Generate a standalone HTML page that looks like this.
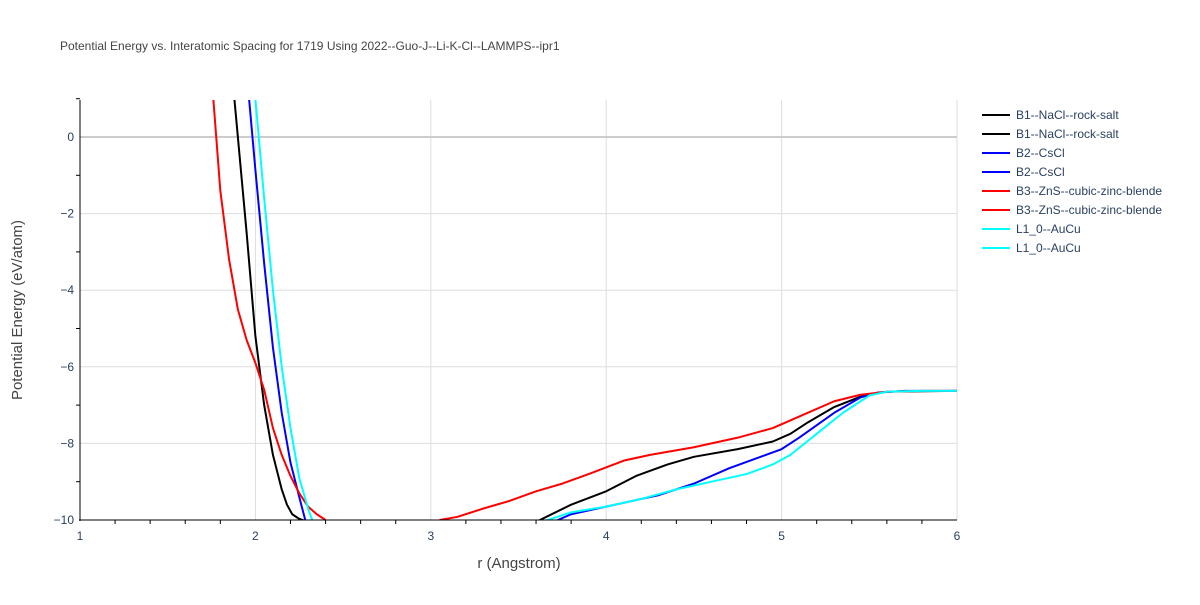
<!DOCTYPE html>
<html><head><meta charset="utf-8"><style>body{margin:0;background:#fff;font-family:"Liberation Sans",sans-serif}</style></head>
<body>
<svg id="chart" width="1200" height="600" xmlns="http://www.w3.org/2000/svg">
<rect width="1200" height="600" fill="#fff"/>
<text x="60" y="50" font-size="12" fill="#444">Potential Energy vs. Interatomic Spacing for 1719 Using 2022--Guo-J--Li-K-Cl--LAMMPS--ipr1</text>
<defs><clipPath id="pc"><rect x="80" y="100" width="877" height="420"/></clipPath></defs>
<g id="grid"></g>
<g id="series" clip-path="url(#pc)"></g>
<g id="axes"></g>
<g id="legend"></g>
<text x="519" y="568" font-size="15" fill="#444" text-anchor="middle">r (Angstrom)</text>
<text transform="translate(22,310) rotate(-90)" font-size="15" fill="#444" text-anchor="middle">Potential Energy (eV/atom)</text>
</svg>
<script>
const xTicks=[1,2,3,4,5,6];
const yTicks=[0,-2,-4,-6,-8,-10];
const seriesNames=["B1--NaCl--rock-salt","B2--CsCl","B3--ZnS--cubic-zinc-blende","L1_0--AuCu"];
const seriesColors=["#000000","#0000ff","#ff0000","#00ffff"];
const b1Left=[[1.87,1.5],[1.95,-2.5],[2.0,-5.2],[2.05,-7.0],[2.1,-8.3],[2.15,-9.2],[2.18,-9.6],[2.21,-9.85],[2.25,-9.97],[2.3,-10.05]];
const b1Right=[[3.6,-10.05],[3.8,-9.6],[4.0,-9.25],[4.17,-8.85],[4.35,-8.55],[4.5,-8.35],[4.75,-8.15],[4.95,-7.95],[5.05,-7.75],[5.15,-7.45],[5.3,-7.05],[5.45,-6.78],[5.6,-6.65],[6,-6.63]];
const b2Left=[[1.96,1.2],[2.0,-0.86],[2.05,-3.3],[2.1,-5.5],[2.15,-7.2],[2.2,-8.5],[2.25,-9.4],[2.29,-10.1]];
const b2Right=[[3.7,-10.05],[3.8,-9.85],[4.0,-9.65],[4.2,-9.45],[4.3,-9.35],[4.5,-9.05],[4.7,-8.65],[5.0,-8.15],[5.1,-7.85],[5.3,-7.2],[5.45,-6.8],[5.55,-6.67],[5.7,-6.63],[6,-6.63]];
const b3Left=[[1.76,1.0],[1.8,-1.4],[1.85,-3.2],[1.9,-4.5],[1.95,-5.3],[2.0,-5.9],[2.05,-6.6],[2.1,-7.6],[2.15,-8.3],[2.2,-8.85],[2.25,-9.3],[2.3,-9.65],[2.35,-9.85],[2.4,-10.0]];
const b3Right=[[3.05,-10.0],[3.15,-9.92],[3.3,-9.7],[3.45,-9.5],[3.6,-9.25],[3.75,-9.05],[3.9,-8.8],[4.1,-8.45],[4.25,-8.3],[4.5,-8.1],[4.75,-7.85],[4.95,-7.6],[5.1,-7.3],[5.3,-6.9],[5.45,-6.73],[5.6,-6.65],[5.8,-6.63],[6,-6.63]];
const l10Left=[[1.99,1.5],[2.05,-1.6],[2.1,-4.0],[2.15,-6.0],[2.2,-7.6],[2.25,-8.9],[2.3,-9.7],[2.34,-10.2]];
const l10Right=[[3.6,-10.1],[3.8,-9.8],[4.0,-9.65],[4.2,-9.45],[4.4,-9.2],[4.6,-9.0],[4.8,-8.8],[4.95,-8.55],[5.05,-8.3],[5.2,-7.75],[5.35,-7.2],[5.5,-6.75],[5.6,-6.65],[5.8,-6.63],[6,-6.63]];
const NS="http://www.w3.org/2000/svg";
const X=v=>80+(v-1)*175.4;
const Y=v=>137-v*38.3;
function mk(t,a,p){const e=document.createElementNS(NS,t);for(const k in a)e.setAttribute(k,a[k]);p.appendChild(e);return e;}
const grid=document.getElementById('grid'),axes=document.getElementById('axes'),ser=document.getElementById('series'),leg=document.getElementById('legend');
xTicks.forEach(t=>{
 const l=mk('line',{x1:X(t),x2:X(t),y1:100,y2:520,stroke:'#ddd','stroke-width':1},grid);
 
 
 const tx=mk('text',{x:X(t),y:540,'font-size':12,fill:'#2a3f5f','text-anchor':'middle'},axes);tx.textContent=t;
 
 
});
yTicks.forEach(t=>{
 const l=mk('line',{x1:80,x2:957,y1:Y(t),y2:Y(t),stroke:t===0?'#ccc':'#ddd','stroke-width':t===0?2:1},grid);
 
 
 const tx=mk('text',{x:74,y:Y(t)+4,'font-size':12,fill:'#2a3f5f','text-anchor':'end'},axes);tx.textContent=(t<0?'−'+(-t):t);
 
 
});
const al=mk('line',{x1:79,x2:957,y1:520,y2:520,stroke:'#000'},axes);


const yl=mk('line',{x1:80,x2:80,y1:100,y2:521,stroke:'#000'},axes);


for(let v=-9;v<=1;v+=2){const m=mk('line',{x1:76,x2:80,y1:Y(v),y2:Y(v),stroke:'#000'},axes);
 
 }
for(let i=1;i<6;i++){for(let k=1;k<5;k++){const m=mk('line',{x1:X(i+k*0.2),x2:X(i+k*0.2),y1:520,y2:524,stroke:'#000'},axes);
 
 }}
const all=[[b1Left,b1Right],[b2Left,b2Right],[b3Left,b3Right],[l10Left,l10Right]];
all.forEach((pair,si)=>{pair.forEach((pts,j)=>{
 const p=mk('polyline',{points:pts.map(q=>X(q[0])+','+Y(q[1])).join(' '),fill:'none',stroke:seriesColors[si],'stroke-width':2,'stroke-linejoin':'round'},ser);
 
 
});});
let li=0;
seriesNames.forEach((n,si)=>{for(let r=0;r<2;r++){const y=115+li*19;li++;
 const g=mk('g',{},leg);
 
 
 mk('line',{x1:982,x2:1010,y1:y,y2:y,stroke:seriesColors[si],'stroke-width':2},g);
 const t=mk('text',{x:1016,y:y+4,'font-size':12,fill:'#2a3f5f'},g);t.textContent=n;
}});
</script>
</body></html>
